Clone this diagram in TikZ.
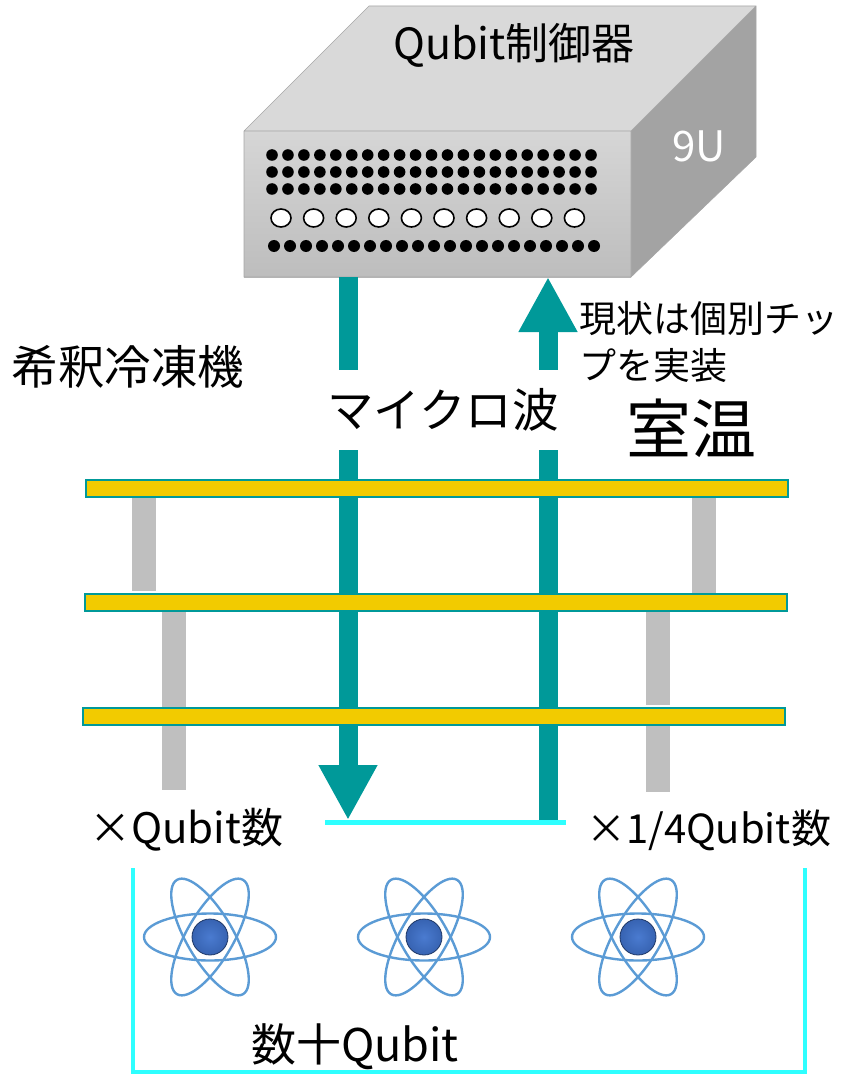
\documentclass[tikz,border=0pt]{standalone}
\usepackage{fontspec}
\setmainfont{Noto Sans CJK JP}
\usetikzlibrary{arrows.meta}

\definecolor{mwTeal}{HTML}{009999}
\definecolor{barGold}{HTML}{F2CB00}
\definecolor{postGray}{HTML}{BFBFBF}
\definecolor{chipCyan}{HTML}{2EFFFF}
\definecolor{orbitBlue}{HTML}{5B9BD5}
\definecolor{nucIn}{HTML}{4A7BD0}
\definecolor{nucMid}{HTML}{3560AE}
\definecolor{nucOut}{HTML}{1E3766}
\definecolor{topFace}{HTML}{D9D9D9}
\definecolor{frontTop}{HTML}{D6D6D6}
\definecolor{frontBot}{HTML}{BDBDBD}
\definecolor{sideFace}{HTML}{A3A3A3}

\pgfdeclareradialshading{nucleusshade}{\pgfpoint{0bp}{0bp}}{%
  color(0bp)=(nucIn); color(28bp)=(nucMid); color(44bp)=(nucOut); color(50bp)=(nucOut)}

\begin{document}
\begin{tikzpicture}[x=1pt,y=-1pt,
  lbl/.style={inner sep=0pt, text=black},
  fridgebar/.style={draw=mwTeal, line width=2pt, fill=barGold, inner sep=0pt,
    minimum width=702pt, minimum height=17pt},
  post/.style={fill=postGray},
  wave/.style={draw=mwTeal, line width=19pt,
    -{Triangle[width=55pt,length=55pt]}},
  orbit/.style={draw=orbitBlue, line width=2.4pt},
  nucleus/.style={circle, minimum size=36pt, inner sep=0pt,
    shading=nucleusshade, draw=nucOut, line width=0.8pt},
  portdot/.style={fill=black},
  portring/.style={draw=black, fill=white, line width=1.6pt}]

\useasboundingbox (0,0) rectangle (841,1075);
\clip (0,0) rectangle (841,1075);

% ---------- controller chassis ----------
\fill[topFace] (244,131) -- (369,6) -- (756,6) -- (631,131) -- cycle;
\fill[sideFace] (631,131) -- (756,6) -- (756,157) -- (631,277) -- cycle;
\node[inner sep=0pt, minimum width=387pt, minimum height=146pt,
      top color=frontTop, bottom color=frontBot] (front) at (437.5,204) {};
\draw[gray!70, line width=0.6pt] (244,131) -- (369,6) -- (756,6) -- (756,157)
  -- (631,277) -- (244,277) -- cycle (631,277) -- (631,131) -- (756,6)
  (244,131) -- (631,131);

\node[lbl, font=\fontsize{43pt}{50pt}\selectfont] (ctrl) at (514,45) {Qubit制御器};
\node[lbl, text=white, font=\fontsize{42pt}{48pt}\selectfont] (rack) at (699,146) {9U};

% connector ports on the front panel
\foreach \row in {155,172,189}
  \foreach \i in {0,...,20}
    \fill[portdot] (272+15.95*\i,\row) circle (5.8pt);
\foreach \i in {0,...,9}
  \draw[portring] (281+32.6*\i,218) ellipse [x radius=10pt, y radius=9pt];
\foreach \i in {0,...,20}
  \fill[portdot] (274+16*\i,246) circle (6pt);

% ---------- labels ----------
\node[lbl, font=\fontsize{46.5pt}{54pt}\selectfont] (fridge) at (128,367) {希釈冷凍機};
\node[lbl, anchor=west, align=left,
      font=\fontsize{37pt}{47pt}\selectfont] (note) at (579,342)
  {現状は個別チッ\\プを実装};
\node[lbl, font=\fontsize{65pt}{72pt}\selectfont] (room) at (691,428) {室温};

% ---------- chip base line ----------
\node[fill=chipCyan, inner sep=0pt, minimum width=241pt, minimum height=5pt]
  (base) at (445.5,822) {};

\coordinate (downTop) at (348,277);
\coordinate (downEnd) at (348,820);
\coordinate (upStart) at (548,820);
\coordinate (upTop) at (548,277);

% ---------- support posts ----------
\fill[post] (132,497) rectangle (156,591);
\fill[post] (692,497) rectangle (716,594);
\fill[post] (162,611) rectangle (186,708);
\fill[post] (646,611) rectangle (670,705);
\fill[post] (162,725) rectangle (186,790);
\fill[post] (646,725) rectangle (670,792);

% ---------- microwave lines ----------
\draw[wave] (downTop) -- (downEnd);
\draw[wave] (upStart) -- (upTop);
\node[lbl, fill=white, minimum width=238pt, minimum height=80pt,
      font=\fontsize{46.5pt}{54pt}\selectfont] (mw) at (443,410) {マイクロ波};

% ---------- temperature stages ----------
\node[fridgebar] (bar1) at (437,488.5) {};
\node[fridgebar] (bar2) at (436,602.5) {};
\node[fridgebar] (bar3) at (434,716.5) {};

\node[lbl, font=\fontsize{42pt}{48pt}\selectfont] (perQ) at (186,830) {×Qubit数};
\node[lbl, anchor=west, font=\fontsize{40pt}{46pt}\selectfont] (perQ4) at (586,830) {×1/4Qubit数};

% ---------- qubit chip ----------
\draw[chipCyan, line width=4pt] (133,868) -- (133,1072) -- (805,1072) -- (805,868);

\foreach \ax/\nm in {210/q1,424/q2,638/q3} {
  \draw[orbit] (\ax,937) ellipse [x radius=66pt, y radius=23.5pt];
  \draw[orbit, rotate around={60:(\ax,937)}] (\ax,937) ellipse [x radius=66pt, y radius=23.5pt];
  \draw[orbit, rotate around={-60:(\ax,937)}] (\ax,937) ellipse [x radius=66pt, y radius=23.5pt];
  \node[nucleus] (\nm) at (\ax,937) {};
}

\node[lbl, font=\fontsize{45pt}{52pt}\selectfont] (chip) at (355,1047) {数十Qubit};

\end{tikzpicture}
\end{document}
